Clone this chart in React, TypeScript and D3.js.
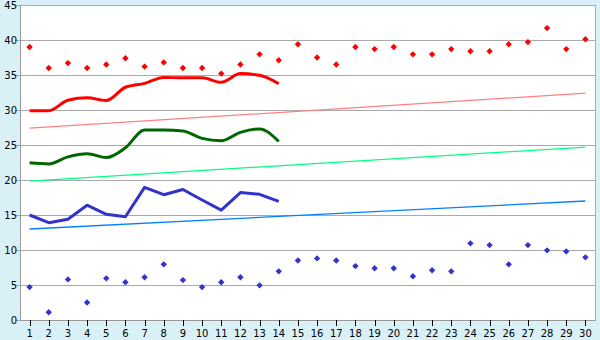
import React from "react";
import * as d3 from "d3";

const categories = d3.range(1, 31).map(String);
const yTicks = [0, 5, 10, 15, 20, 25, 30, 35, 40, 45];

const redPoints = [39, 36, 36.7, 36, 36.5, 37.4, 36.2, 36.8, 36, 36, 35.2, 36.5, 37.95, 37.1, 39.4, 37.5, 36.5, 39, 38.7, 39, 37.95, 37.95, 38.7, 38.4, 38.4, 39.4, 39.7, 41.7, 38.7, 40.1];
const bluePoints = [4.7, 1.1, 5.8, 2.5, 5.95, 5.4, 6.1, 7.95, 5.7, 4.7, 5.4, 6.1, 4.95, 6.95, 8.5, 8.8, 8.5, 7.7, 7.4, 7.4, 6.25, 7.1, 6.95, 10.95, 10.7, 7.95, 10.7, 9.95, 9.8, 8.95];

const redLine = [29.9, 29.9, 31.4, 31.75, 31.35, 33.25, 33.8, 34.65, 34.6, 34.6, 33.95, 35.2, 34.95, 33.75];
const greenLine = [22.45, 22.3, 23.3, 23.75, 23.2, 24.6, 27.15, 27.15, 27.0, 25.95, 25.6, 26.8, 27.3, 25.5];
const blueLine = [15.0, 13.9, 14.4, 16.4, 15.1, 14.75, 18.95, 17.9, 18.65, 17.15, 15.7, 18.2, 17.95, 16.95];

const pinkTrend: [number, number][] = [[1, 27.4], [30, 32.4]];
const greenTrend: [number, number][] = [[1, 19.85], [30, 24.7]];
const blueTrend: [number, number][] = [[1, 13.0], [30, 17.0]];

export default function App() {
  const W = 600, H = 340;
  const left = 20, right = 595, top = 5, bottom = 320;
  const x = d3.scalePoint<string>().domain(categories).range([left, right]).padding(0.5);
  const y = d3.scaleLinear().domain([0, 45]).range([bottom, top]);
  const xi = (i: number) => x(categories[i]) as number;
  const xn = (n: number) => x(String(n)) as number;

  const smooth = d3.line<number>().x((_, i) => xi(i)).y((v) => y(v)).curve(d3.curveMonotoneX);
  const straight = d3.line<number>().x((_, i) => xi(i)).y((v) => y(v));
  const trend = d3.line<[number, number]>().x((d) => xn(d[0])).y((d) => y(d[1]));

  const diamond = (cx: number, cy: number, r = 3.2) =>
    `M${cx},${cy - r}L${cx + r},${cy}L${cx},${cy + r}L${cx - r},${cy}Z`;

  const font = "'DejaVu Sans', Verdana, sans-serif";

  return (
    <svg width={W} height={H} style={{ position: "absolute", left: 0, top: 0, display: "block" }}>
      <rect x={0} y={0} width={W} height={H} fill="#daf0f7" />
      <rect x={left} y={top} width={right - left} height={bottom - top} fill="#ffffff" />
      {yTicks.map((t) => (
        <g key={t}>
          <line x1={left - 5} x2={right} y1={Math.round(y(t)) + 0.5} y2={Math.round(y(t)) + 0.5} stroke="#aaaaaa" strokeWidth={1} />
          <text x={17} y={y(t)} dy="0.36em" textAnchor="end" fontFamily={font} fontSize={10} fill="#000">{t}</text>
        </g>
      ))}
      <line x1={left + 0.5} x2={left + 0.5} y1={top} y2={bottom + 1} stroke="#999999" />
      <line x1={right + 0.5} x2={right + 0.5} y1={top} y2={bottom + 1} stroke="#aaaaaa" />
      <line x1={left} x2={right} y1={bottom + 0.5} y2={bottom + 0.5} stroke="#999999" />
      {categories.map((c) => (
        <g key={c}>
          <line x1={Math.round(x(c) as number) + 0.5} x2={Math.round(x(c) as number) + 0.5} y1={bottom} y2={bottom + 6} stroke="#000" />
          <text x={x(c) as number} y={337} textAnchor="middle" fontFamily={font} fontSize={10} fill="#000">{c}</text>
        </g>
      ))}

      <path d={trend(pinkTrend) || ""} fill="none" stroke="#ff8080" strokeWidth={1.3} />
      <path d={trend(greenTrend) || ""} fill="none" stroke="#00ff80" strokeWidth={1.3} />
      <path d={trend(blueTrend) || ""} fill="none" stroke="#0080ff" strokeWidth={1.3} />

      <path d={smooth(redLine) || ""} fill="none" stroke="#ff0000" strokeWidth={3} strokeLinejoin="round" />
      <path d={smooth(greenLine) || ""} fill="none" stroke="#006600" strokeWidth={3} strokeLinejoin="round" />
      <path d={straight(blueLine) || ""} fill="none" stroke="#3333cc" strokeWidth={3} strokeLinejoin="round" />

      {redPoints.map((v, i) => (
        <path key={"r" + i} d={diamond(xi(i), y(v))} fill="#ff0000" />
      ))}
      {bluePoints.map((v, i) => (
        <path key={"b" + i} d={diamond(xi(i), y(v))} fill="#3333cc" />
      ))}
    </svg>
  );
}
